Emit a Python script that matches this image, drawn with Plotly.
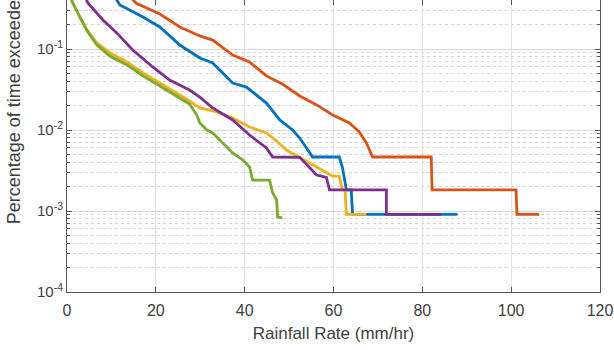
import plotly.graph_objects as go

# Exceedance curves: rainfall rate (mm/hr) vs percentage of time exceeded
blue_x = [11.0, 11.9, 17.1, 20.9, 25.4, 29.9, 32.8, 37.3, 40.4, 44.9, 47.9, 50.8, 52.4,
          55.3, 61.3, 62.0, 62.9, 64.0, 64.3, 87.9]
blue_y = [0.42, 0.349, 0.248, 0.187, 0.112, 0.0774, 0.0671, 0.038, 0.0339, 0.0215, 0.0133,
          0.0100, 0.00796, 0.00464, 0.00464, 0.00349, 0.00182, 0.00182, 0.00091, 0.00091]

orange_x = [14.6, 15.5, 20.9, 25.4, 29.9, 32.8, 37.3, 41.1, 44.9, 48.5, 52.4, 56.2, 59.8,
            63.6, 65.8, 67.4, 68.8, 82.0, 82.2, 101.1, 101.3, 106.3]
orange_y = [0.42, 0.37, 0.270, 0.187, 0.145, 0.129, 0.0843, 0.0691, 0.0465, 0.037, 0.0263,
            0.0204, 0.0153, 0.0122, 0.00944, 0.00692, 0.00464, 0.00464, 0.00182, 0.00182,
            0.00091, 0.00091]

yellow_x = [0.9, 1.3, 2.9, 4.5, 6.7, 9.7, 13.5, 17.1, 20.9, 24.7, 27.6, 29.9, 33.7, 37.3,
            41.1, 44.9, 47.2, 49.4, 52.4, 54.6, 59.8, 61.3, 62.0, 62.6, 62.9, 67.4]
yellow_y = [0.42, 0.37, 0.248, 0.172, 0.119, 0.0893, 0.0691, 0.0506, 0.038, 0.0286, 0.0228,
            0.0187, 0.0167, 0.0141, 0.0109, 0.0092, 0.0073, 0.00566, 0.00464, 0.00392,
            0.0027, 0.0027, 0.00182, 0.00182, 0.00091, 0.00091]

purple_x = [4.3, 4.7, 8.1, 11.2, 14.8, 19.3, 23.1, 27.6, 29.9, 32.8, 37.3, 41.1, 44.9, 46.3,
            52.4, 54.6, 56.2, 58.4, 59.1, 71.9, 71.9, 84.3]
purple_y = [0.42, 0.37, 0.228, 0.158, 0.0973, 0.060, 0.0414, 0.0312, 0.0255, 0.0187, 0.0133,
            0.00867, 0.0060, 0.00464, 0.0046, 0.0034, 0.00278, 0.0026, 0.00182, 0.00182,
            0.00091, 0.00091]

green_x = [0.9, 1.3, 2.9, 4.5, 6.7, 9.7, 13.5, 17.1, 20.9, 24.7, 27.6, 29.2, 29.9, 31.5,
           32.8, 34.4, 36.0, 37.3, 39.6, 41.1, 41.8, 45.6, 46.3, 47.2, 47.4, 48.5]
green_y = [0.42, 0.37, 0.248, 0.168, 0.113, 0.0814, 0.0636, 0.0466, 0.035, 0.0264, 0.0209,
           0.0153, 0.0122, 0.0100, 0.0092, 0.00753, 0.00617, 0.0052, 0.00426, 0.00349,
           0.00241, 0.00241, 0.00167, 0.00137, 0.000843, 0.00082]

y_tick_vals = [1e-4, 1e-3, 1e-2, 1e-1]
y_tick_text = ["10<sup>-4</sup>", "10<sup>-3</sup>", "10<sup>-2</sup>", "10<sup>-1</sup>"]
x_tick_vals = [0, 20, 40, 60, 80, 100, 120]

series = [
    (blue_x, blue_y, "#0072BD"),
    (orange_x, orange_y, "#D95319"),
    (yellow_x, yellow_y, "#EDB120"),
    (purple_x, purple_y, "#7E2F8E"),
    (green_x, green_y, "#77AC30"),
]

fig = go.Figure()
for xs, ys, col in series:
    fig.add_trace(go.Scatter(x=xs, y=ys, mode="lines",
                             line=dict(color=col, width=2.8), showlegend=False))

minor_vals = [m * 10 ** e for e in range(-4, 0) for m in range(2, 10)]

font_col = "#404040"
axis_col = "#555555"

fig.update_xaxes(
    range=[0, 120], tickvals=x_tick_vals, ticks="inside", ticklen=5,
    tickcolor=axis_col, showline=True, linecolor=axis_col, linewidth=1,
    mirror="allticks", showgrid=True, gridcolor="#e2e2e2", gridwidth=1,
    zeroline=False, tickfont=dict(size=16, color=font_col), ticklabelstandoff=4,
    title=dict(text="Rainfall Rate (mm/hr)", font=dict(size=17, color=font_col), standoff=8),
)
fig.update_yaxes(
    type="log", range=[-4, -0.395], tickvals=y_tick_vals, ticktext=y_tick_text,
    ticks="inside", ticklen=5, tickcolor=axis_col, showline=True, linecolor=axis_col,
    linewidth=1, mirror="allticks", showgrid=True, gridcolor="#d8d8d8", gridwidth=1,
    zeroline=False, tickfont=dict(size=15, color=font_col),
    minor=dict(tickvals=minor_vals, ticks="inside", ticklen=3, tickcolor=axis_col,
               showgrid=True, gridcolor="#d4d4d4", griddash="dot", gridwidth=1),
)

fig.add_annotation(
    text="Percentage of time exceeded", textangle=-90,
    xref="paper", yref="paper", x=-0.099, y=0.226,
    xanchor="center", yanchor="bottom", showarrow=False,
    font=dict(size=18, color=font_col, family="Liberation Sans, Arial, sans-serif"),
)

fig.update_layout(
    width=614, height=350,
    margin=dict(l=67, r=14, t=0, b=58),
    paper_bgcolor="white", plot_bgcolor="white",
    font=dict(family="Liberation Sans, Arial, sans-serif"),
)

fig.write_html("out.html")
